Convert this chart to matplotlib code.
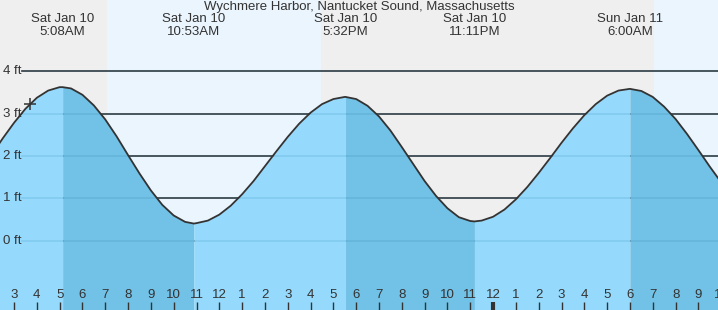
import numpy as np
import matplotlib
matplotlib.use("Agg")
import matplotlib.pyplot as plt

plt.rcParams['font.family'] = ['Liberation Sans', 'DejaVu Sans']

# hours since midnight Sat Jan 10, tide height in ft
times = [2.0, 2.5, 3.0, 3.5, 4.0, 4.5, 5.0, 5.133,
         5.5, 6.0, 6.5, 7.0, 7.5, 8.0, 8.5, 9.0, 9.5, 10.0, 10.5, 10.883,
         11.0, 11.5, 12.0, 12.5, 13.0, 13.5, 14.0, 14.5, 15.0, 15.5, 16.0, 16.5, 17.0, 17.5, 17.533,
         18.0, 18.5, 19.0, 19.5, 20.0, 20.5, 21.0, 21.5, 22.0, 22.5, 23.0, 23.183,
         23.5, 24.0, 24.5, 25.0, 25.5, 26.0, 26.5, 27.0, 27.5, 28.0, 28.5, 29.0, 29.5, 30.0,
         30.5, 31.0, 31.5, 32.0, 32.5, 33.0, 33.5, 34.0]
heights = [2.01, 2.41, 2.78, 3.11, 3.37, 3.54, 3.62, 3.62,
           3.59, 3.44, 3.19, 2.86, 2.46, 2.02, 1.59, 1.19, 0.85, 0.60, 0.45, 0.41,
           0.42, 0.48, 0.62, 0.83, 1.10, 1.41, 1.76, 2.11, 2.45, 2.76, 3.02, 3.22, 3.34, 3.39, 3.39,
           3.34, 3.18, 2.93, 2.60, 2.21, 1.81, 1.41, 1.06, 0.77, 0.56, 0.47, 0.46,
           0.48, 0.57, 0.74, 0.98, 1.27, 1.60, 1.95, 2.31, 2.65, 2.96, 3.22, 3.42, 3.54, 3.58,
           3.53, 3.39, 3.16, 2.87, 2.52, 2.14, 1.75, 1.38]

# high / low tide events
event_times = [5.133, 10.883, 17.533, 23.183, 30.0]
event_heights = [3.62, 0.41, 3.39, 0.46, 3.58]
event_days = ["Sat Jan 10", "Sat Jan 10", "Sat Jan 10", "Sat Jan 10", "Sun Jan 11"]
event_clock = ["5:08AM", "10:53AM", "5:32PM", "11:11PM", "6:00AM"]

# daylight spans
day_spans = [(7.08, 16.46), (31.05, 40.0)]

# current time marker
now_time = 3.70
now_height = 3.23

title = "Wychmere Harbor, Nantucket Sound, Massachusetts"
grid_levels = [0, 1, 2, 3, 4]
tick_hours = list(range(3, 35))

x0, x1 = 2.386, 33.86
y0, y1 = -1.624, 5.671

night_col = "#efefef"
day_col = "#ebf5fe"
rise_col = "#95dafd"
fall_col = "#72c1e6"
ink = "#333333"
fs = 9.5

fig = plt.figure(figsize=(7.18, 3.10), dpi=100)
fig.patch.set_facecolor(night_col)
ax = fig.add_axes([0, 0, 1, 1])
ax.set_xlim(x0, x1)
ax.set_ylim(y0, y1)
for a, b in day_spans:
    ax.axvspan(a, b, color=day_col, lw=0, zorder=0)

# grid lines (start a bit right of the labels)
gx = x0 + 22 / 22.81
for g in grid_levels:
    ax.plot([gx, x1], [g, g], color=ink, lw=1.2, zorder=1)

t = np.array(times)
h = np.array(heights)
# rising / falling fills
bounds = [t[0]] + event_times + [t[-1]]
for i in range(len(bounds) - 1):
    m = (t >= bounds[i]) & (t <= bounds[i + 1])
    col = rise_col if i % 2 == 0 else fall_col
    ax.fill_between(t[m], h[m], y0, color=col, lw=0, zorder=2)

for g in grid_levels:
    ax.plot([gx, x1], [g, g], color="#2a7fb0", alpha=0.18, lw=1.2, zorder=3)

ax.plot(t, h, color=ink, lw=1.3, zorder=4)
ax.plot([now_time], [now_height], marker="+", color=ink, ms=9, mew=1.1, zorder=5)

# y labels
for g in grid_levels:
    ax.text(x0 + 3 / 22.81, g, f"{g} ft", color=ink, fontsize=fs, va="center", ha="left", zorder=6)

# x ticks
for hr in tick_hours:
    lab = str((hr - 1) % 12 + 1)
    ax.text(hr, -1.28, lab, color=ink, fontsize=fs, ha="center", va="center", zorder=6, clip_on=True)
    w = 3.0 if hr % 24 == 0 else 1.0
    ax.plot([hr, hr], [y0, -1.44], color=ink, lw=w, zorder=6, solid_capstyle="butt")

# header
ax.text((x0 + x1) / 2, 5.50, title, color=ink, fontsize=fs, ha="center", va="center")
for et, d, c in zip(event_times, event_days, event_clock):
    ax.text(et, 5.22, d, color=ink, fontsize=fs, ha="center", va="center")
    ax.text(et, 4.92, c, color=ink, fontsize=fs, ha="center", va="center")

ax.axis("off")
fig.savefig("out.png", dpi=100, facecolor=night_col)
